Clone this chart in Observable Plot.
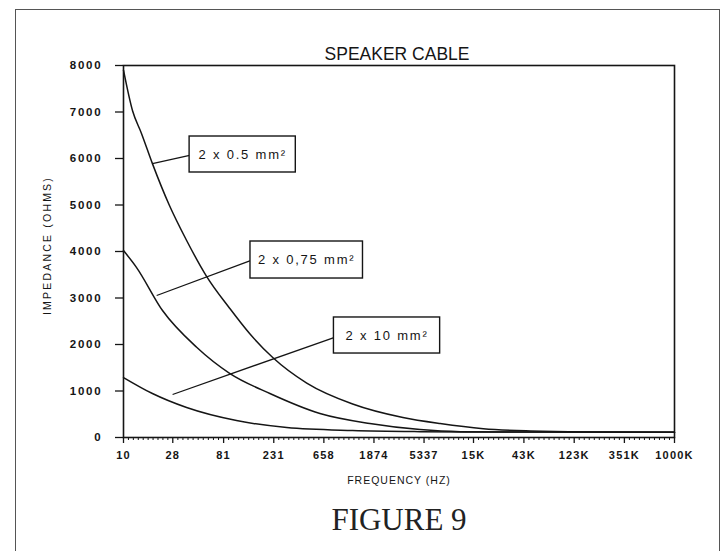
<!DOCTYPE html>
<html>
<head>
<meta charset="utf-8">
<script src="https://cdn.jsdelivr.net/npm/d3@7"></script>
<script src="https://cdn.jsdelivr.net/npm/@observablehq/plot@0.6"></script>
<style>
  html, body { margin: 0; padding: 0; background: #fff; overflow: hidden; }
  #wrap { position: relative; width: 723px; height: 551px; }
  #outer { position: absolute; left: 15px; top: 9px; width: 705px; height: 600px; border: 1.6px solid #555; box-sizing: border-box; }
  #chart { position: absolute; left: 0; top: 0; }
  g[aria-label="y-axis tick label"] text { letter-spacing: 1.8px; }
</style>
</head>
<body>
<div id="wrap"><div id="outer"></div><div id="chart"></div></div>
<script>
// ---- data ----
const title = "SPEAKER CABLE";
const yTitle = "IMPEDANCE (OHMS)";
const xTitle = "FREQUENCY (HZ)";
const caption = "FIGURE 9";

const freqTicks = [10, 28, 81, 231, 658, 1874, 5337, 15000, 43000, 123000, 351000, 1000000];
const freqTickLabels = ["10", "28", "81", "231", "658", "1874", "5337", "15K", "43K", "123K", "351K", "1000K"];
const impedanceTicks = [0, 1000, 2000, 3000, 4000, 5000, 6000, 7000, 8000];

const cable05Freq = [10, 12.1, 14.5, 18.3, 26, 37.4, 56.9, 91.8, 140, 226, 460, 1200, 3430, 7470, 18400, 49400, 150000, 1000000];
const cable05Imp  = [7900, 7020, 6550, 5890, 5000, 4237, 3460, 2780, 2230, 1720, 1170, 720, 430, 300, 190, 140, 120, 115];

const cable075Freq = [10, 13.1, 22.6, 46.1, 91.8, 213, 606, 1720, 4910, 11400, 30000, 1000000];
const cable075Imp  = [4020, 3660, 2730, 1940, 1380, 946, 516, 300, 170, 125, 117, 115];

const cable10Freq = [10, 18.3, 37.4, 106, 303, 1200, 4910, 20000, 1000000];
const cable10Imp  = [1290, 946, 645, 365, 215, 150, 125, 117, 115];

const labelTexts   = ["2 x 0.5 mm²", "2 x 0,75 mm²", "2 x 10 mm²"];
const boxFreq1     = [39.8, 142, 812];
const boxFreq2     = [366, 1490, 7470];
const boxImp1      = [5699, 3419, 1806];
const boxImp2      = [6473, 4215, 2581];
const leaderFreqA  = [18.3, 20, 27.9];
const leaderImpA   = [5890, 3054, 925];
const leaderFreqB  = [39.8, 142, 812];
const leaderImpB   = [6065, 3806, 2150];

// ---- build tables ----
const series = [
  ...cable05Freq.map((f, i) => ({cable: "0.5", f, z: cable05Imp[i]})),
  ...cable075Freq.map((f, i) => ({cable: "0.75", f, z: cable075Imp[i]})),
  ...cable10Freq.map((f, i) => ({cable: "10", f, z: cable10Imp[i]}))
];
const labels = labelTexts.map((t, i) => ({
  t, x1: boxFreq1[i], x2: boxFreq2[i], y1: boxImp1[i], y2: boxImp2[i],
  xc: Math.sqrt(boxFreq1[i] * boxFreq2[i]), yc: (boxImp1[i] + boxImp2[i]) / 2,
  ax: leaderFreqA[i], ay: leaderImpA[i], bx: leaderFreqB[i], by: leaderImpB[i]
}));
const minorTicks = [];
for (let i = 0; i < freqTicks.length - 1; i++) {
  const a = freqTicks[i], b = freqTicks[i + 1];
  for (let k = 1; k < 10; k++) minorTicks.push(a * Math.pow(b / a, k / 10));
}
const xTickTable = freqTicks.map((v, i) => ({v, label: freqTickLabels[i]}));

const ink = "#151515";
const sans = "'Liberation Sans', Arial, sans-serif";

const plot = Plot.plot({
  width: 723,
  height: 551,
  marginLeft: 123,
  marginRight: 49,
  marginTop: 65,
  marginBottom: 114,
  style: {background: "transparent", color: ink, fontFamily: sans},
  x: {type: "log", domain: [10, 1000000]},
  y: {domain: [0, 8000]},
  marks: [
    Plot.axisY({ticks: impedanceTicks, tickSize: 8, tickPadding: 13, tickFormat: d3.format("d"), fontSize: 11.5, fontWeight: 600, label: null, stroke: ink, strokeWidth: 1.3}),
    Plot.axisX({ticks: minorTicks, tickSize: 3, text: () => "", label: null, stroke: ink, strokeWidth: 1}),
    Plot.axisX({ticks: freqTicks, tickSize: 6, text: () => "", label: null, stroke: ink, strokeWidth: 1.3}),
    Plot.text(xTickTable, {x: "v", text: "label", frameAnchor: "bottom", lineAnchor: "middle", dy: 18, fontSize: 11, fontWeight: 600, fill: ink, fontFamily: sans}),
    Plot.frame({stroke: ink, strokeWidth: 1.6}),
    Plot.line(series, {x: "f", y: "z", z: "cable", stroke: ink, strokeWidth: 1.5, curve: "monotone-x"}),
    Plot.link(labels, {x1: "ax", y1: "ay", x2: "bx", y2: "by", stroke: ink, strokeWidth: 1.3}),
    Plot.rect(labels, {x1: "x1", x2: "x2", y1: "y1", y2: "y2", fill: "white", stroke: ink, strokeWidth: 1.4}),
    Plot.text(labels, {x: "xc", y: "yc", text: "t", fontSize: 13, fill: ink, fontFamily: sans}),
    Plot.text([title], {frameAnchor: "top", dx: -2, dy: -18, fontSize: 17.5, fill: ink, fontFamily: sans}),
    Plot.text([yTitle], {frameAnchor: "left", textAnchor: "middle", lineAnchor: "middle", dx: -76, dy: -6, rotate: -90, fontSize: 10.5, fill: ink, fontFamily: sans}),
    Plot.text([xTitle], {frameAnchor: "bottom", lineAnchor: "middle", dy: 43, fontSize: 10.5, fill: ink, fontFamily: sans}),
    Plot.text([caption], {frameAnchor: "bottom", lineAnchor: "middle", dy: 83, fontSize: 31, fill: "#222", fontFamily: "'Liberation Serif', 'Times New Roman', serif"})
  ]
});
document.getElementById("chart").appendChild(plot);

// letter spacing to mimic the spaced-out plotter lettering
d3.select(plot).selectAll("text").each(function() {
  const t = this.textContent;
  if (t.includes("mm")) this.style.letterSpacing = "1.8px";
  else if (t === yTitle) this.style.letterSpacing = "2.2px";
  else if (t === xTitle) this.style.letterSpacing = "1px";
  else if (freqTickLabels.includes(t)) this.style.letterSpacing = "1.2px";
});
</script>
</body>
</html>
